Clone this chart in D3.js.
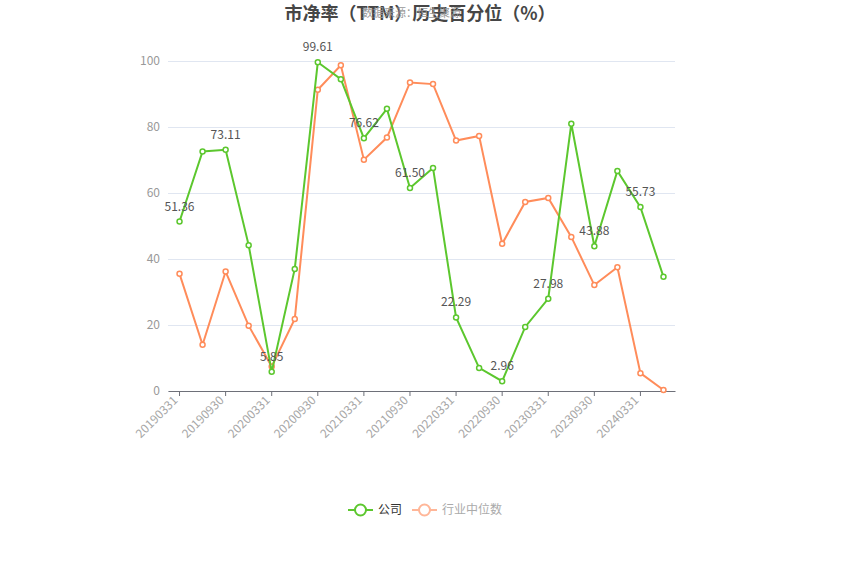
<!DOCTYPE html>
<html><head><meta charset="utf-8">
<script src="https://cdn.jsdelivr.net/npm/d3@7"></script>
<style>body{margin:0;background:#fff;}svg{display:block;font-family:"Microsoft YaHei","Noto Sans CJK SC",sans-serif;}</style>
</head><body><svg id="c" width="850" height="574"></svg>
<script>
const dates = ["20190331","20190630","20190930","20191231","20200331","20200630","20200930","20201231","20210331","20210630","20210930","20211231","20220331","20220630","20220930","20221231","20230331","20230630","20230930","20231231","20240331","20240630"];
const company = [51.36,72.6,73.11,44.2,5.85,37.0,99.61,94.5,76.62,85.5,61.50,67.6,22.29,7.0,2.96,19.4,27.98,81.0,43.88,66.7,55.73,34.6];
const industry = [35.5,14.0,36.2,19.8,7.4,21.8,91.3,98.7,70.1,76.8,93.5,93.0,75.9,77.3,44.6,57.3,58.5,46.7,32.1,37.5,5.4,0.3];
const yTicks = [0,20,40,60,80,100];
const titleText = "市净率（TTM）历史百分位（%）";
const sourceText = "数据来源：恒生聚源";
const seriesNames = ["公司","行业中位数"];
const colors = ["#5cc72e","#ff8c5a"];

const svg = d3.select("#c");
const L=168,R=675,T=61,B=391;
const x = d3.scaleBand().domain(dates).range([L,R]);
const y = d3.scaleLinear().domain([0,100]).range([B,T]);

svg.append("text").attr("x",420).attr("y",20).attr("text-anchor","middle")
  .attr("font-size",18).attr("font-weight","bold").attr("fill","#464646").text(titleText);
svg.append("text").attr("x",362).attr("y",17).attr("font-size",11).attr("fill","#999").text(sourceText);

// grid
const yAxis = d3.axisLeft(y).tickValues(yTicks).tickSize(-(R-L)).tickPadding(8);
const gy = svg.append("g").attr("transform",`translate(${L},0)`).call(yAxis);
gy.select(".domain").remove();
gy.selectAll(".tick line").attr("stroke","#e0e6f1");
gy.selectAll(".tick text").attr("fill","#999").attr("font-size",12).attr("font-family","Microsoft YaHei,Noto Sans CJK SC,sans-serif");

// x axis
const xAxis = d3.axisBottom(x).tickValues(dates.filter((d,i)=>i%2===0)).tickSize(5).tickSizeOuter(0);
const gx = svg.append("g").attr("transform",`translate(0,${B})`).call(xAxis);
gx.select(".domain").attr("stroke","#6e7079");
gx.selectAll(".tick line").attr("stroke","#6e7079");
gx.selectAll(".tick text").attr("fill","#a6a6a6").attr("font-size",12)
  .attr("font-family","Microsoft YaHei,Noto Sans CJK SC,sans-serif")
  .attr("text-anchor","end").attr("dy",null).attr("y",0)
  .attr("transform","translate(-1,10) rotate(-45)");

const cx = d => x(d)+x.bandwidth()/2;
const data = [company, industry];
[1,0].forEach(s=>{
  const vals = data[s];
  const line = d3.line().x((v,i)=>cx(dates[i])).y(v=>y(v));
  svg.append("path").attr("d",line(vals)).attr("fill","none").attr("stroke",colors[s]).attr("stroke-width",2);
  svg.append("g").selectAll("circle").data(vals).join("circle")
    .attr("cx",(v,i)=>cx(dates[i])).attr("cy",v=>y(v)).attr("r",2.5)
    .attr("fill","#fff").attr("stroke",colors[s]).attr("stroke-width",1.5);
});
svg.append("g").selectAll("text").data(company.map((v,i)=>[v,i]).filter(d=>d[1]%2===0)).join("text")
  .attr("x",d=>cx(dates[d[1]])).attr("y",d=>y(d[0])-11).attr("text-anchor","middle")
  .attr("font-size",12).attr("fill","#555").text(d=>d[0].toFixed(2));

// legend
const lg = svg.append("g");
const items = [{x:348,c:colors[0],t:seriesNames[0],tc:"#333"},{x:412,c:"#ffb698",t:seriesNames[1],tc:"#aaa"}];
items.forEach(it=>{
  lg.append("line").attr("x1",it.x).attr("x2",it.x+25).attr("y1",510).attr("y2",510).attr("stroke",it.c).attr("stroke-width",2);
  lg.append("circle").attr("cx",it.x+12.5).attr("cy",510).attr("r",5.5).attr("fill","#fff").attr("stroke",it.c).attr("stroke-width",2);
  lg.append("text").attr("x",it.x+30).attr("y",514).attr("font-size",12).attr("fill",it.tc).text(it.t);
});
</script></body></html>
